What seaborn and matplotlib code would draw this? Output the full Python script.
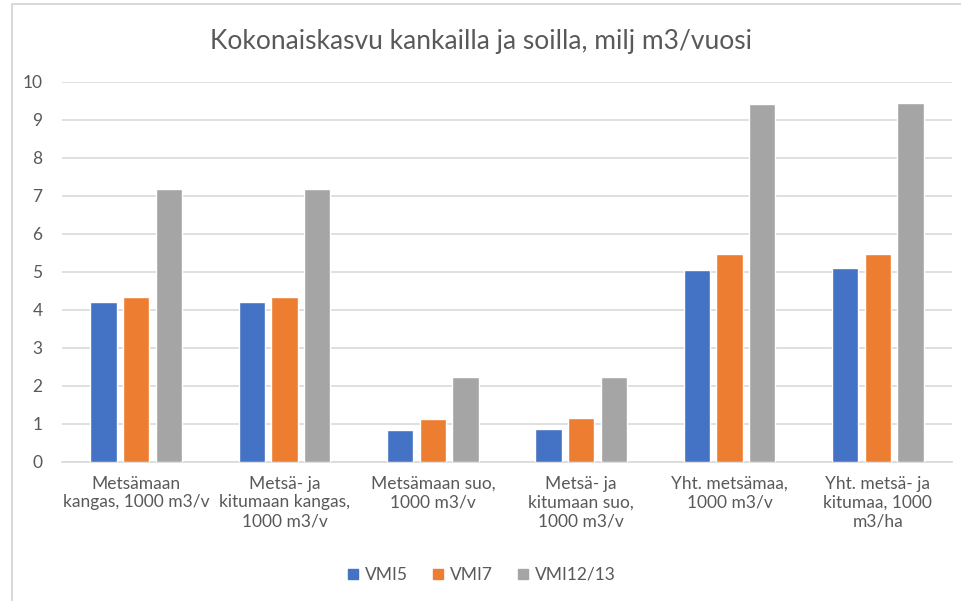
import numpy as np
import pandas as pd
import matplotlib.pyplot as plt
import seaborn as sns
from matplotlib.lines import Line2D

categories = [
    "Metsämaan\nkangas, 1000 m3/v",
    "Metsä- ja\nkitumaan kangas,\n1000 m3/v",
    "Metsämaan suo,\n1000 m3/v",
    "Metsä- ja\nkitumaan suo,\n1000 m3/v",
    "Yht. metsämaa,\n1000 m3/v",
    "Yht. metsä- ja\nkitumaa, 1000\nm3/ha",
]
series = ["VMI5", "VMI7", "VMI12/13"]
vmi5 = [4.22, 4.22, 0.84, 0.87, 5.04, 5.10]
vmi7 = [4.33, 4.34, 1.14, 1.17, 5.47, 5.47]
vmi12_13 = [7.18, 7.18, 2.23, 2.25, 9.42, 9.45]
colors = ["#4472C4", "#ED7D31", "#A5A5A5"]

df = pd.DataFrame({
    "kategoria": categories * 3,
    "sarja": [s for s in series for _ in categories],
    "arvo": vmi5 + vmi7 + vmi12_13,
})

sns.set_theme(style="white")
plt.rcParams["font.family"] = ["Lato", "DejaVu Sans"]
text_col = "#595959"

fig = plt.figure(figsize=(9.62, 6.01), dpi=100)
ax = fig.add_axes([62 / 962, 1 - 462 / 601, 890 / 962, 380 / 601])

sns.barplot(data=df, x="kategoria", y="arvo", hue="sarja", palette=colors,
            width=0.66, gap=0.2, saturation=1, ax=ax, legend=False, zorder=3)

ax.set_ylim(0, 10)
ax.set_xlim(-0.5, 5.5)
ax.set_yticks(range(0, 11))
ax.yaxis.grid(True, color="#D9D9D9", linewidth=1.2, zorder=0)
ax.set_axisbelow(True)
for side in ["top", "right", "left"]:
    ax.spines[side].set_visible(False)
ax.spines["bottom"].set_color("#D9D9D9")
ax.spines["bottom"].set_linewidth(1.2)
ax.set_xlabel("")
ax.set_ylabel("")
ax.tick_params(axis="both", length=0, labelsize=12.5, colors=text_col)
ax.tick_params(axis="x", pad=10)
ax.tick_params(axis="y", pad=14)
for lbl in ax.get_xticklabels():
    lbl.set_linespacing(1.2)

fig.text(0.5, 1 - 42 / 601, "Kokonaiskasvu kankailla ja soilla, milj m3/vuosi",
         ha="center", va="center", fontsize=19, color=text_col)

handles = [Line2D([0], [0], marker="s", linestyle="", markersize=7,
                  markerfacecolor=c, markeredgecolor=c) for c in colors]
fig.legend(handles, series, loc="center", bbox_to_anchor=(0.5, 1 - 575 / 601),
           ncol=3, frameon=False, fontsize=12.5, labelcolor=text_col,
           handlelength=0.8, handletextpad=0.3, columnspacing=1.3)

# light border round the chart area
fig.add_artist(Line2D([12 / 962, 1], [1 - 4 / 601, 1 - 4 / 601],
                      transform=fig.transFigure, color="#D9D9D9", linewidth=1.5))
fig.add_artist(Line2D([12 / 962, 12 / 962], [0, 1 - 4 / 601],
                      transform=fig.transFigure, color="#D9D9D9", linewidth=1.5))

fig.savefig("out.png", dpi=100)
